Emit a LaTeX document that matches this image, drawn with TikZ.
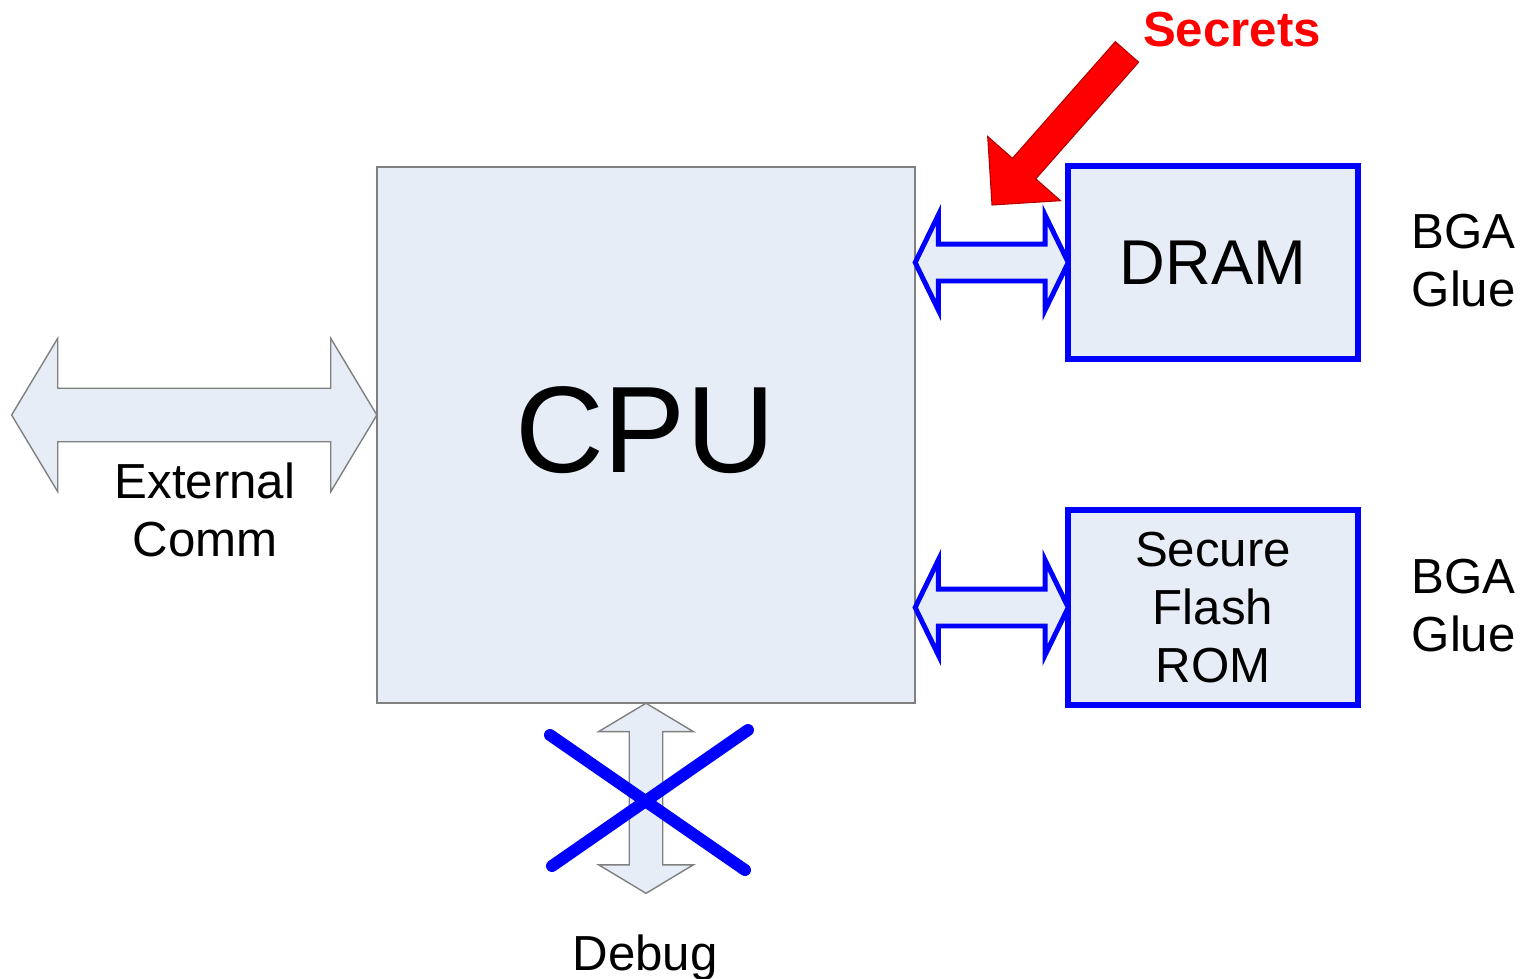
\documentclass[tikz,border=0pt]{standalone}
\usepackage{fontspec}
\setmainfont{Liberation Sans}
\usepackage{tikz}
\usetikzlibrary{calc, shapes, shapes.arrows, arrows.meta}

\definecolor{chipfill}{RGB}{231,237,247}

\begin{document}
\begin{tikzpicture}[x=0.01cm, y=-0.01cm]
  %[background rectangle/.style={fill=white}, show background rectangle]
  \tikzstyle{chip}=[draw=gray, fill=chipfill, line width=0.4pt, inner sep=0, outer sep=0]
  \tikzstyle{mem}=[draw=blue, fill=chipfill, line width=1.7pt, minimum width=2.9cm, minimum height=1.92cm, inner sep=0, outer sep=0, align=center, font=\fontsize{14}{16.5}\selectfont]
  \tikzstyle{bus}=[double arrow, draw=blue, fill=chipfill, line width=1.4pt, inner xsep=0, inner ysep=0.16cm, double arrow head extend=0.29cm, double arrow tip angle=128, outer sep=0]
  \tikzstyle{port}=[double arrow, draw=gray, fill=chipfill, line width=0.4pt, double arrow tip angle=118, inner xsep=0, outer sep=0]
  \tikzstyle{txt}=[align=center, font=\fontsize{14}{16.5}\selectfont, inner sep=0]

  \useasboundingbox (0,0) rectangle (1530,978);

  \node (cpu) [chip, minimum width=5.38cm, minimum height=5.36cm] at (646,435) {};
  \node (cpu_text) [font=\fontsize{35}{40}\selectfont, inner sep=0] at (645,430) {CPU};

  \node (dram) [mem, font=\fontsize{18}{20}\selectfont] at (1213,262.5) {DRAM};
  \node (flash) [mem, minimum height=1.95cm] at (1213,607.5) {Secure\\Flash\\ROM};

  \node (bus_dram) [bus, minimum height=1.53cm, anchor=west] at (cpu.east |- dram.west) {};
  \node (bus_flash) [bus, minimum height=1.53cm, anchor=west] at (cpu.east |- flash.west) {};

  \node (ext) [port, minimum height=3.65cm, inner ysep=0.26cm, double arrow head extend=0.5cm, anchor=east] at (cpu.west |- 0,415) {};
  \node (debug) [port, rotate=90, minimum height=1.9cm, inner ysep=0.16cm, double arrow head extend=0.305cm, anchor=east] at (cpu.south) {};

  \node (ext_label) [txt] at (205,510) {External\\Comm};
  \node (debug_label) [txt, anchor=base] at (645,970) {Debug};
  \node (bga_dram) [txt, align=left, anchor=west] at (1411,261) {BGA\\Glue};
  \node (bga_flash) [txt, align=left, anchor=west] at (1411,606) {BGA\\Glue};

  % debug port is disabled
  \draw[blue, line width=3.4pt, line cap=round] (550,735) -- (745,870);
  \draw[blue, line width=3.4pt, line cap=round] (552,866) -- (748,730);

  \node (hint) [single arrow, draw=red!70!black, fill=red, line width=0.3pt, rotate=228.6, minimum height=2.04cm, inner xsep=0, inner ysep=0.15cm, single arrow head extend=0.33cm, outer sep=0, anchor=tip] at (992,205) {};
  \node (secrets) [txt, text=red, font=\fontsize{14}{16.5}\selectfont\bfseries] at (1232,30) {Secrets};

\end{tikzpicture}
\end{document}
